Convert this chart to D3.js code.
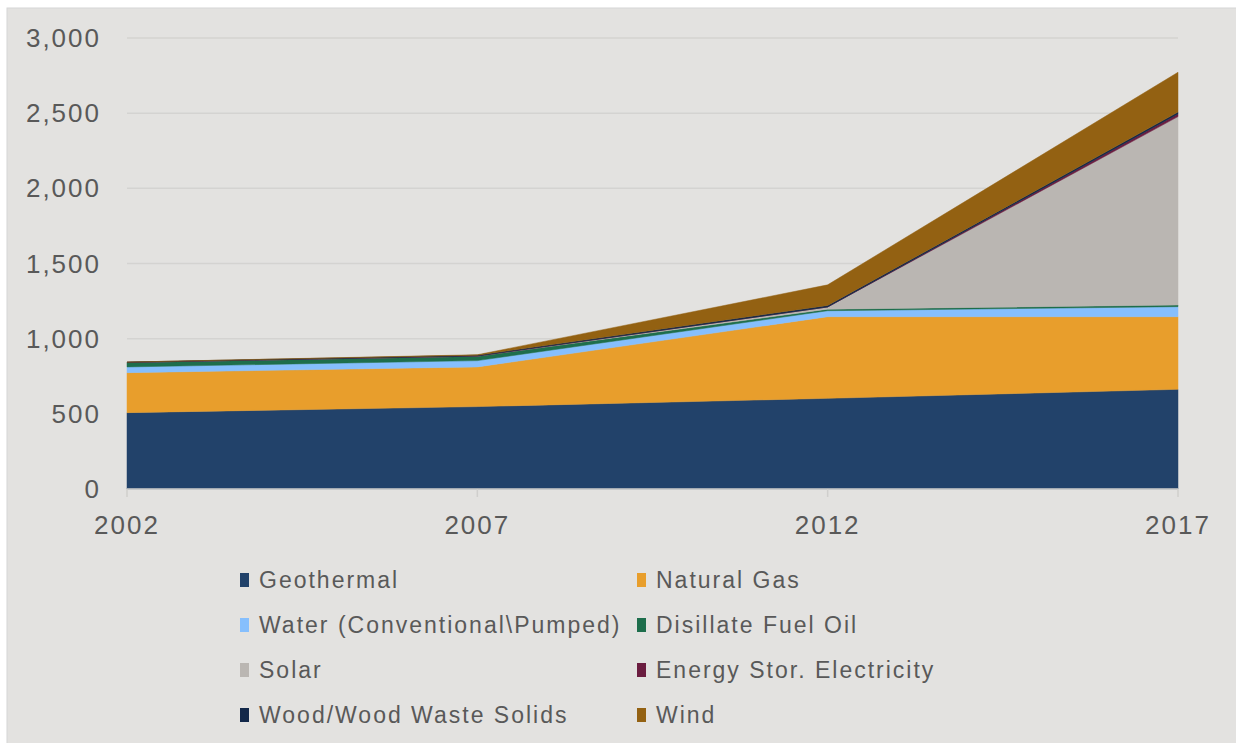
<!DOCTYPE html>
<html>
<head>
<meta charset="utf-8">
<script src="https://d3js.org/d3.v7.min.js"></script>
<style>
  body { margin: 0; background: #ffffff; }
  text { font-family: "Liberation Sans", Arial, sans-serif; fill: #595959; }
</style>
</head>
<body>
<svg width="1236" height="743"></svg>
<script>
(function() {
	// data
	var years = [2002, 2007, 2012, 2017];
	var geothermal = [508, 548, 603, 663];
	var naturalGas = [266, 264, 543, 483];
	var water = [38, 42, 40, 67];
	var distillate = [30, 30, 10, 11];
	var solar = [0, 0, 15, 1253];
	var energyStor = [0, 0, 0, 18];
	var wood = [2, 6, 10, 12];
	var wind = [0, 3, 137, 265];
	var yTicks = [0, 500, 1000, 1500, 2000, 2500, 3000];

	var seriesNames = ["Geothermal", "Natural Gas", "Water (Conventional\\Pumped)", "Disillate Fuel Oil",
		"Solar", "Energy Stor. Electricity", "Wood/Wood Waste Solids", "Wind"];
	var seriesValues = [geothermal, naturalGas, water, distillate, solar, energyStor, wood, wind];
	var colors = ["#22426a", "#e89e2c", "#86bffd", "#1e6e4c", "#bab6b2", "#6b1d40", "#13284a", "#936112"];

	var svg = d3.select("svg");

	// chart background
	svg.append("rect")
	  .attr("x", 7).attr("y", 8)
	  .attr("width", 1236).attr("height", 743)
	  .style("fill", "#e3e2e0")
	  .style("stroke", "#d6d6d6");

	var x = d3.scaleLinear().domain([2002, 2017]).range([127, 1178]);
	var y = d3.scaleLinear().domain([0, 3000]).range([489, 38]);

	// gridlines
	svg.append("g").selectAll("line")
	  .data(yTicks.filter(function(d) { return d > 0; }))
	  .enter().append("line")
	  .attr("x1", x(2002)).attr("x2", x(2017))
	  .attr("y1", function(d) { return y(d); }).attr("y2", function(d) { return y(d); })
	  .style("stroke", "#d4d3d1").style("stroke-width", "1.5px");

	// stacked areas
	var table = years.map(function(yr, i) {
		var row = { year: yr };
		seriesNames.forEach(function(n, j) { row[n] = seriesValues[j][i]; });
		return row;
	});
	var stack = d3.stack().keys(seriesNames)(table);

	var area = d3.area()
	  .x(function(d) { return x(d.data.year); })
	  .y0(function(d) { return y(d[0]); })
	  .y1(function(d) { return y(d[1]); });

	svg.append("g").selectAll("path")
	  .data(stack)
	  .enter().append("path")
	  .attr("d", area)
	  .style("fill", function(d, i) { return colors[i]; })
	  .style("stroke", function(d, i) { return colors[i]; })
	  .style("stroke-width", "0.5px");

	// x axis line + ticks
	svg.append("line")
	  .attr("x1", x(2002)).attr("x2", x(2017))
	  .attr("y1", y(0)).attr("y2", y(0))
	  .style("stroke", "#d0cfcd").style("stroke-width", "1.5px");

	svg.append("g").selectAll("line")
	  .data(years)
	  .enter().append("line")
	  .attr("x1", function(d) { return x(d); }).attr("x2", function(d) { return x(d); })
	  .attr("y1", y(0)).attr("y2", y(0) + 8)
	  .style("stroke", "#d0cfcd").style("stroke-width", "1.5px");

	// tick labels
	var fmt = d3.format(",");
	svg.append("g").selectAll("text")
	  .data(yTicks)
	  .enter().append("text")
	  .attr("x", 101)
	  .attr("y", function(d) { return y(d); })
	  .attr("dy", "0.35em")
	  .attr("text-anchor", "end")
	  .style("font-size", "26px")
	  .style("letter-spacing", "2px")
	  .text(function(d) { return fmt(d); });

	svg.append("g").selectAll("text")
	  .data(years)
	  .enter().append("text")
	  .attr("x", function(d) { return x(d); })
	  .attr("y", 534)
	  .attr("text-anchor", "middle")
	  .style("font-size", "26px")
	  .style("letter-spacing", "2px")
	  .text(function(d) { return d; });

	// legend, two columns
	var legend = svg.append("g").selectAll("g")
	  .data(seriesNames)
	  .enter().append("g")
	  .attr("transform", function(d, i) {
		  return "translate(" + (i % 2 === 0 ? 240 : 637) + "," + (580 + Math.floor(i / 2) * 45) + ")";
	  });

	legend.append("rect")
	  .attr("x", 0).attr("y", -7)
	  .attr("width", 9).attr("height", 14)
	  .style("fill", function(d, i) { return colors[i]; });

	legend.append("text")
	  .attr("x", 19).attr("y", 0)
	  .attr("dy", "0.35em")
	  .style("font-size", "23px")
	  .style("letter-spacing", "2px")
	  .text(function(d) { return d; });
})();
</script>
</body>
</html>
